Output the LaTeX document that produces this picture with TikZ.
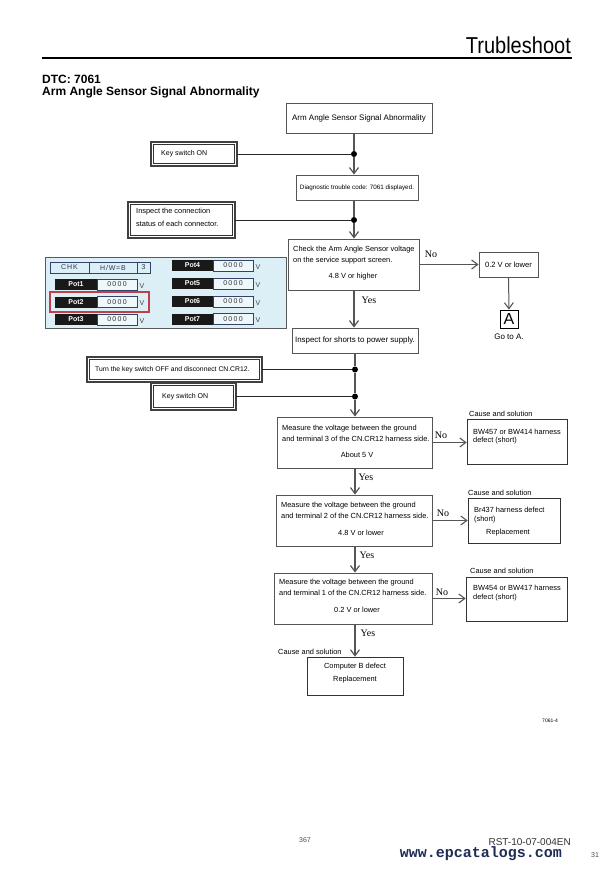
\documentclass[tikz,border=0pt]{standalone}
\usepackage{fontspec}
\setmainfont{Liberation Sans}
\newfontfamily\ynfont{Liberation Serif}
\newfontfamily\wwwfont{Liberation Mono}
\usetikzlibrary{arrows.meta}
\definecolor{flow}{HTML}{555555}
\definecolor{panelc}{HTML}{DCEFF6}
\definecolor{cellb}{HTML}{34426A}
\definecolor{valc}{HTML}{EEF8FB}
\definecolor{redb}{HTML}{C0404A}
\definecolor{navy}{HTML}{1F2D55}
\newcommand\flowfs{\fontsize{7.4}{8}\selectfont}
\newcommand\tabfs{\fontsize{7}{8}\selectfont}
\newcommand\zz{0\kern1.3pt0\kern1.3pt0\kern1.3pt0}
\begin{document}
\begin{tikzpicture}[x=1pt,y=-1pt,
  box/.style={draw=flow,line width=0.9pt,inner sep=0pt,fill=white},
  inb/.style={draw=black!80,line width=0.6pt,inner sep=0pt,fill=white},
  outb/.style={draw=black!75,line width=1.8pt},
  tx/.style={inner sep=0pt,anchor=west,font=\flowfs},
  tc/.style={inner sep=0pt,font=\flowfs},
  spine/.style={draw=flow,line width=1.6pt},
  side/.style={draw=black!85,line width=0.7pt},
  arr/.style={-{Straight Barb[length=6pt,width=9pt,line width=1.2pt]}},
  br/.style={draw=flow,line width=1pt,-{Straight Barb[length=6pt,width=9pt,line width=1.1pt]}},
  dot/.style={circle,fill=black,inner sep=0pt,minimum size=6pt},
  yn/.style={inner sep=0pt,font=\ynfont\fontsize{10}{10}\selectfont},
  hcell/.style={draw=cellb,line width=0.8pt,fill=panelc,inner sep=0pt,minimum height=11,font=\tabfs,text=cellb!80!black},
  lab/.style={fill=black!90,inner sep=0pt,minimum width=42,minimum height=11,font=\tabfs\bfseries,text=white},
  val/.style={draw=cellb,line width=0.6pt,fill=valc,inner sep=0pt,minimum width=40,minimum height=11,font=\tabfs,text=black!80},
  vv/.style={inner sep=0pt,anchor=west,font=\tabfs,text=black!75},
]
\useasboundingbox[fill=white] (0,0) rectangle (612,870);

% ---------- header ----------
\node[inner sep=0pt,anchor=base east,font=\fontsize{23}{23}\selectfont,xscale=0.87] (ttl) at (571,53) {Trubleshoot};
\coordinate (rl) at (42,58);
\coordinate (rr) at (572,58);
\draw[line width=1.3pt] (rl) -- (rr);
\node[inner sep=0pt,anchor=base west,font=\bfseries\fontsize{12}{12}\selectfont] (dtc) at (42,83) {DTC: 7061};
\node[inner sep=0pt,anchor=base west,font=\bfseries\fontsize{12}{12}\selectfont] (sub) at (42,95) {Arm Angle Sensor Signal Abnormality};

% ---------- main boxes ----------
\node[box,minimum width=146,minimum height=30,font=\fontsize{8}{9}\selectfont] (b1) at (359,118) {Arm Angle Sensor Signal Abnormality};
\node[box,minimum width=122,minimum height=25,font=\fontsize{6.3}{7}\selectfont] (b2) at (357,187.5) {Diagnostic trouble code: 7061 displayed.};
\node[box,minimum width=131,minimum height=51] (b3) at (353.5,264.5) {};
\node[box,minimum width=59,minimum height=25,font=\fontsize{7.6}{8}\selectfont] (b02) at (508.5,264.5) {0.2 V or lower};
\node[draw=black,line width=0.9pt,inner sep=0pt,minimum width=18,minimum height=18,font=\fontsize{16}{16}\selectfont] (bA) at (509,319) {A};
\node[inner sep=0pt,font=\fontsize{8}{9}\selectfont] (goA) at (509,337) {Go to A.};
\node[box,minimum width=126,minimum height=25,font=\fontsize{7.9}{9}\selectfont] (b4) at (355,340.5) {Inspect for shorts to power supply.};
\node[box,minimum width=155,minimum height=51] (b5) at (354.5,442.5) {};
\node[inb,minimum width=100,minimum height=45] (r1) at (517,441.5) {};
\node[box,minimum width=156,minimum height=51] (b6) at (354,520.5) {};
\node[inb,minimum width=92,minimum height=45] (r2) at (514,520.5) {};
\node[box,minimum width=158,minimum height=51] (b7) at (353,598.5) {};
\node[inb,minimum width=101,minimum height=44] (r3) at (516.5,599) {};
\node[inb,minimum width=96,minimum height=38] (b8) at (355,676) {};

% ---------- side (double bordered) boxes ----------
\node[inb,minimum width=81,minimum height=19] (ks1) at (194,154) {};
\node[inb,minimum width=102,minimum height=31] (insp) at (181.5,220) {};
\node[inb,minimum width=170,minimum height=20] (turn) at (174.5,369.5) {};
\node[inb,minimum width=80,minimum height=22] (ks2) at (193.5,396.5) {};
\foreach \n in {ks1,insp,turn,ks2}
  \draw[outb] ([xshift=-2.5pt,yshift=2.5pt]\n.north west) rectangle ([xshift=2.5pt,yshift=-2.5pt]\n.south east);

\node[tx,font=\fontsize{7}{8}\selectfont] (ks1t) at (161,154) {Key switch ON};
\node[tx,font=\fontsize{7.4}{8}\selectfont] (inspt1) at (136,212) {Inspect the connection};
\node[tx,font=\fontsize{7.4}{8}\selectfont] (inspt2) at (136,224) {status of each connector.};
\node[tx,font=\fontsize{6.8}{8}\selectfont] (turnt) at (95,369.5) {Turn the key switch OFF and disconnect CN.CR12.};
\node[tx,font=\fontsize{7}{8}\selectfont] (ks2t) at (162,397) {Key switch ON};

% ---------- texts in boxes ----------
\node[tx] (b3a) at (293,250) {Check the Arm Angle Sensor voltage};
\node[tx] (b3b) at (293,261) {on the service support screen.};
\node[tc] (b3c) at (353,277) {4.8 V or higher};

\node[tx] (b5a) at (282,429) {Measure the voltage between the ground};
\node[tx] (b5b) at (282,438.5) {and terminal 3 of the CN.CR12 harness side.};
\node[tc] (b5c) at (357,455) {About 5 V};

\node[tx] (b6a) at (281,506) {Measure the voltage between the ground};
\node[tx] (b6b) at (281,516) {and terminal 2 of the CN.CR12 harness side.};
\node[tc] (b6c) at (361,533) {4.8 V or lower};

\node[tx] (b7a) at (279,583) {Measure the voltage between the ground};
\node[tx] (b7b) at (279,593) {and terminal 1 of the CN.CR12 harness side.};
\node[tc] (b7c) at (357,610) {0.2 V or lower};

\node[tx] (r1a) at (473,432) {BW457 or BW414 harness};
\node[tx] (r1b) at (473,441) {defect (short)};
\node[tx] (r2a) at (474,510) {Br437 harness defect};
\node[tx] (r2b) at (474,520) {(short)};
\node[tx] (r2c) at (486,533) {Replacement};
\node[tx] (r3a) at (473,588) {BW454 or BW417 harness};
\node[tx] (r3b) at (473,598) {defect (short)};

\node[tc] (b8a) at (355,667) {Computer B defect};
\node[tc] (b8b) at (355,680) {Replacement};

\node[tx] (cs1) at (469,414) {Cause and solution};
\node[tx] (cs2) at (468,493) {Cause and solution};
\node[tx] (cs3) at (470,571) {Cause and solution};
\node[tx] (cs4) at (278,652) {Cause and solution};

% ---------- spine ----------
\node[dot] (d1) at (354,154) {};
\node[dot] (d2) at (354,220) {};
\node[dot] (d3) at (355,369.5) {};
\node[dot] (d4) at (355,396.5) {};

\draw[spine] (b1.south -| d1) -- (d1);
\draw[spine,arr] (d1) -- (b2.north -| d1);
\draw[spine] (b2.south -| d2) -- (d2);
\draw[spine,arr] (d2) -- (b3.north -| d2);
\draw[spine,arr] (b3.south -| d2) -- (b4.north -| d2);
\draw[spine] (b4.south -| d3) -- (d3);
\draw[spine] (d3) -- (d4);
\draw[spine,arr] (d4) -- (b5.north -| d4);
\draw[spine,arr] (b5.south -| d4) -- (b6.north -| d4);
\draw[spine,arr] (b6.south -| d4) -- (b7.north -| d4);
\draw[spine,arr] (b7.south -| d4) -- (b8.north -| d4);

\draw[side] ([xshift=2.5pt]ks1.east) -- (d1);
\draw[side] ([xshift=2.5pt]insp.east) -- (d2);
\draw[side] ([xshift=2.5pt]turn.east) -- (d3);
\draw[side] ([xshift=2.5pt]ks2.east) -- (d4);

% ---------- branches ----------
\draw[br] (b3.east) -- (b02.west);
\draw[br] (b02.south) -- (bA.north);
\draw[br] (b5.east) -- (b5.east -| r1.west);
\draw[br] (b6.east) -- (b6.east -| r2.west);
\draw[br] (b7.east) -- (b7.east -| r3.west);

\node[yn] (no1) at (431,254) {No};
\node[yn] (no2) at (441,435) {No};
\node[yn] (no3) at (443,513) {No};
\node[yn] (no4) at (442,592) {No};
\node[yn] (yes1) at (369,300) {Yes};
\node[yn] (yes2) at (366,477) {Yes};
\node[yn] (yes3) at (367,555) {Yes};
\node[yn] (yes4) at (368,633) {Yes};

% ---------- monitor panel ----------
\node[draw=black!65,fill=panelc,line width=0.8pt,inner sep=0pt,minimum width=241,minimum height=71] (panel) at (165.5,292.5) {};
\node[hcell,minimum width=39] (h1) at (69.5,267.5) {C\kern1pt H\kern1pt K};
\node[hcell,minimum width=48] (h2) at (113,267.5) {H\kern0.8pt/\kern0.8pt W\kern0.8pt=\kern0.8pt B};
\node[hcell,minimum width=13] (h3) at (143.5,267.5) {3};

\node[lab] (p1) at (76,284.5) {Pot1};
\node[val] (v1) at (117,284.5) {\zz};
\node[vv] (u1) at (139.5,286) {V};
\node[lab] (p2) at (76,302) {Pot2};
\node[val] (v2) at (117,302) {\zz};
\node[vv] (u2) at (139.5,303.5) {V};
\node[lab] (p3) at (76,319.5) {Pot3};
\node[val] (v3) at (117,319.5) {\zz};
\node[vv] (u3) at (139.5,321) {V};

\node[lab,minimum width=41] (p4) at (192.5,265.5) {Pot4};
\node[val] (v4) at (233,265.5) {\zz};
\node[vv] (u4) at (255.5,267) {V};
\node[lab,minimum width=41] (p5) at (192.5,283.5) {Pot5};
\node[val] (v5) at (233,283.5) {\zz};
\node[vv] (u5) at (255.5,285) {V};
\node[lab,minimum width=41] (p6) at (192.5,301.5) {Pot6};
\node[val] (v6) at (233,301.5) {\zz};
\node[vv] (u6) at (255.5,303) {V};
\node[lab,minimum width=41] (p7) at (192.5,319) {Pot7};
\node[val] (v7) at (233,319) {\zz};
\node[vv] (u7) at (255.5,320.5) {V};

\node[draw=redb,line width=1.6pt,inner sep=0pt,minimum width=99,minimum height=20] (redbox) at (99.5,302) {};

% ---------- footer ----------
\node[inner sep=0pt,font=\fontsize{5}{6}\selectfont] (code) at (550,721) {7061-4};
\node[inner sep=0pt,font=\fontsize{7}{8}\selectfont,text=black!70] (pg) at (305,840) {367};
\node[inner sep=0pt,anchor=east,font=\fontsize{10}{11}\selectfont,text=black!80] (rst) at (571,842) {RST-10-07-004EN};
\node[inner sep=0pt,anchor=east,font=\wwwfont\bfseries\fontsize{15}{15}\selectfont,text=navy] (www) at (562,854) {www.epcatalogs.com};
\node[inner sep=0pt,font=\fontsize{7}{8}\selectfont,text=black!70] (p31) at (595,855) {31};
\end{tikzpicture}
\end{document}
